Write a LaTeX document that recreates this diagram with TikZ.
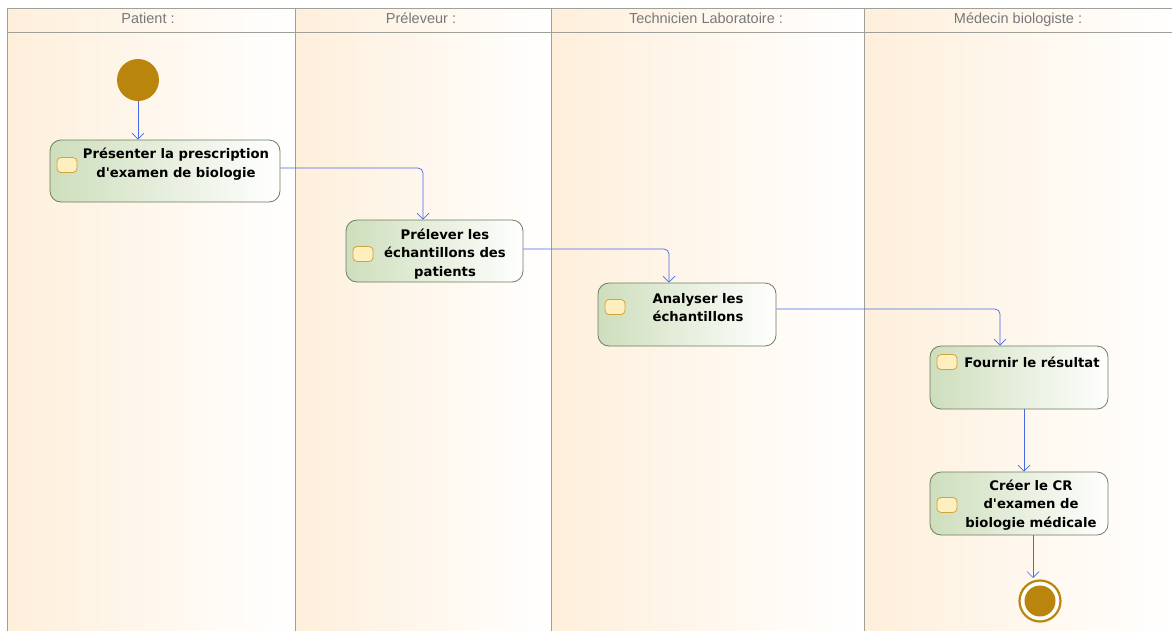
\documentclass[tikz,border=0pt]{standalone}
\usepackage{fontspec}
\setmainfont{Liberation Sans}
\newfontfamily\actfont{DejaVu Sans}
\usetikzlibrary{arrows.meta}
\definecolor{lanebg}{RGB}{254,239,219}
\definecolor{frame}{RGB}{160,160,155}
\definecolor{actfill}{RGB}{206,222,188}
\definecolor{actdraw}{RGB}{110,125,95}
\definecolor{iconfill}{RGB}{255,238,190}
\definecolor{icondraw}{RGB}{210,165,60}
\definecolor{gold}{RGB}{185,133,12}
\definecolor{flow}{RGB}{70,105,230}
\definecolor{headtxt}{RGB}{120,120,120}
\tikzset{
  lane/.style={left color=lanebg, right color=white, draw=frame, line width=1pt},
  headtext/.style={text=headtxt, font=\fontsize{14.5}{16}\selectfont, text height=10.5pt, text depth=3pt, inner sep=0pt},
  actbox/.style={rounded corners=11pt, draw=actdraw, line width=0.8pt, left color=actfill, right color=white, inner sep=0pt},
  acttext/.style={font=\actfont\bfseries\fontsize{13.2}{18.5}\selectfont, align=center, inner sep=0pt},
  icon/.style={rounded corners=4pt, draw=icondraw, fill=iconfill, line width=0.8pt, minimum width=20pt, minimum height=15pt, inner sep=0pt},
  flowline/.style={draw=flow, line width=0.7pt, rounded corners=5pt, -{Straight Barb[length=6pt,width=12pt]}},
}
\begin{document}
\begin{tikzpicture}[x=1pt,y=-1pt]
\useasboundingbox (0,0) rectangle (1172,630);
% lanes
\path[lane] (7,8) rectangle (295,631);
\path[lane] (295,8) rectangle (551,631);
\path[lane] (551,8) rectangle (864,631);
\path[lane] (864,8) rectangle (1175,631);
\draw[frame, line width=1pt] (7,32) -- (1172,32);
\node[headtext] (h1) at (148,20) {Patient :};
\node[headtext] (h2) at (421,20) {Préleveur :};
\node[headtext] (h3) at (706,20) {Technicien Laboratoire :};
\node[headtext] (h4) at (1018,20) {Médecin biologiste :};
% initial
\node[circle, fill=gold, minimum size=42pt, inner sep=0pt] (init) at (138,80) {};
% activities
\node[actbox, minimum width=230pt, minimum height=62pt] (a1) at (165,171) {};
\node[icon] (i1) at (67,165) {};
\node[acttext] (t1) at (176,164) {Présenter la prescription\\d\textquotesingle examen de biologie};

\node[actbox, minimum width=177pt, minimum height=62pt] (a2) at (434.5,251) {};
\node[icon] (i2) at (363,254) {};
\node[acttext] (t2) at (445,254) {Prélever les\\échantillons des\\patients};

\node[actbox, minimum width=178pt, minimum height=63pt] (a3) at (687,314.5) {};
\node[icon] (i3) at (615,307) {};
\node[acttext] (t3) at (698,307.5) {Analyser les\\échantillons};

\node[actbox, minimum width=178pt, minimum height=63pt] (a4) at (1019,377.5) {};
\node[icon] (i4) at (947,362) {};
\node[acttext] (t4) at (1032,362) {Fournir le résultat};

\node[actbox, minimum width=178pt, minimum height=63pt] (a5) at (1019,503.5) {};
\node[icon] (i5) at (947,505) {};
\node[acttext] (t5) at (1031,505) {Créer le CR\\d\textquotesingle examen de\\biologie médicale};

% final
\node[circle, draw=gold, line width=2.2pt, fill=white, minimum size=41pt, inner sep=0pt] (fin) at (1040,601) {};
\node[circle, fill=gold, minimum size=31pt, inner sep=0pt] (fin2) at (fin) {};
\coordinate (c6) at (1033,578);

% flows
\draw[flowline] (init.south) -- (a1.north -| init);
\draw[flowline] (a1.east |- 0,168) -| (423,0 |- a2.north);
\draw[flowline] (a2.east |- 0,249) -| (669,0 |- a3.north);
\draw[flowline] (a3.east |- 0,309) -| (1000,0 |- a4.north);
\draw[flowline] (a4.south -| 1024,0) -- (a5.north -| 1024,0);
\draw[flowline] (a5.south -| c6) -- (c6);
\end{tikzpicture}
\end{document}
